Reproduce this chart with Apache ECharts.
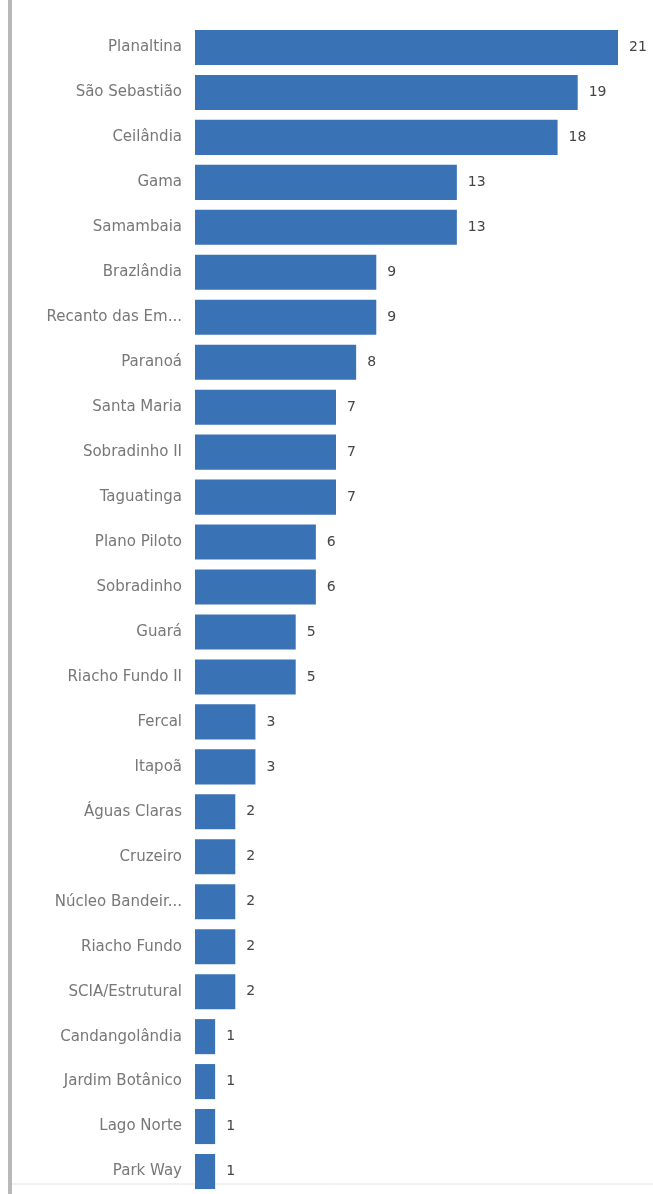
<!DOCTYPE html>
<html>
<head>
<meta charset="utf-8">
<script src="https://cdn.jsdelivr.net/npm/echarts@6/dist/echarts.min.js"></script>
<style>
  html, body { margin: 0; padding: 0; background: #fff; }
  #chart { width: 653px; height: 1194px; }
</style>
</head>
<body>
<div id="chart"></div>
<script>
// regiões administrativas e contagens
const regioes = [
  "Planaltina", "São Sebastião", "Ceilândia", "Gama", "Samambaia",
  "Brazlândia", "Recanto das Emas", "Paranoá", "Santa Maria", "Sobradinho II",
  "Taguatinga", "Plano Piloto", "Sobradinho", "Guará", "Riacho Fundo II",
  "Fercal", "Itapoã", "Águas Claras", "Cruzeiro", "Núcleo Bandeirante",
  "Riacho Fundo", "SCIA/Estrutural", "Candangolândia", "Jardim Botânico",
  "Lago Norte", "Park Way"
];
const valores = [21, 19, 18, 13, 13, 9, 9, 8, 7, 7, 7, 6, 6, 5, 5, 3, 3, 2, 2, 2, 2, 2, 1, 1, 1, 1];

const chart = echarts.init(document.getElementById("chart"));
const option = {
  backgroundColor: "#fff",
  animation: false,
  textStyle: { fontFamily: "DejaVu Sans, sans-serif" },
  grid: { left: 195, right: 35, top: 25, height: 1183 },
  xAxis: {
    type: "value",
    min: 0,
    max: 21,
    show: false
  },
  yAxis: {
    type: "category",
    inverse: true,
    data: regioes,
    axisLine: { show: false },
    axisTick: { show: false },
    axisLabel: {
      color: "#777",
      fontSize: 15,
      margin: 13,
      // nomes longos cortados como no painel
      formatter: (v) => (v.length > 15 ? v.slice(0, 14) + "..." : v)
    }
  },
  series: [{
    type: "bar",
    data: valores,
    barCategoryGap: "22%",
    itemStyle: { color: "#3a72b6" },
    label: {
      show: true,
      position: "right",
      distance: 11,
      color: "#444",
      fontSize: 14
    }
  }],
  graphic: [
    // borda esquerda do cartão
    { type: "rect", left: 8, top: 0, shape: { width: 4, height: 1194 }, style: { fill: "#b8b8b8" } },
    // linha inferior
    { type: "line", z: -1, shape: { x1: 12, y1: 1184, x2: 653, y2: 1184 }, style: { stroke: "#e2e2e2", lineWidth: 1 } }
  ]
};
chart.setOption(option);
</script>
</body>
</html>
